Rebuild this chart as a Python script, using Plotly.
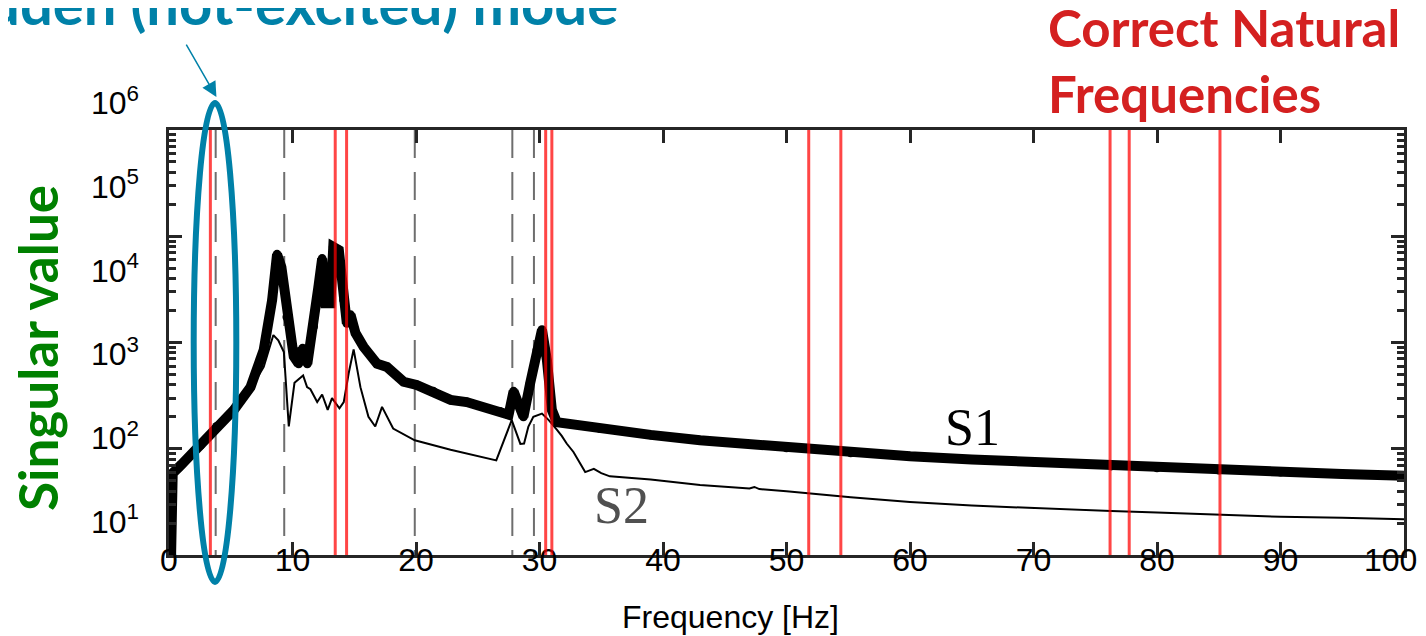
import plotly.graph_objects as go

# ---------------- data ----------------
s1_freq = [0.0, 0.3, 1.0, 2.0, 2.55, 3.86, 5.25, 6.6, 7.67, 8.35, 8.75, 9.1, 9.55, 10.1, 10.5,
           10.82, 11.2, 11.7, 12.1, 12.4, 12.67, 13.07, 13.3, 13.75, 14.15, 14.4, 14.7, 15.1,
           15.75, 16.85, 17.65, 19.0, 20.05, 21.4, 22.8, 24.1, 26.8, 27.5, 27.9, 28.3, 28.7,
           29.25, 29.8, 30.2, 30.6, 31.0, 31.4, 34.9, 39.0, 43.0, 50.0, 55.2, 60.0, 65.0, 70.0,
           76.3, 80.0, 85.0, 90.0, 95.0, 100.0]
s1_value = [1.0, 59, 70.8, 93.3, 108, 162, 232, 380, 851, 2512, 6761, 5129, 1738, 741, 631,
            881, 631, 1413, 3350, 6166, 2344, 2344, 7943, 7413, 2512, 1514, 1820, 1230,
            912, 631, 589, 427, 398, 347, 288, 275, 224, 209, 347, 269, 200,
            417, 851, 1318, 684, 232, 178, 155, 135, 120, 102, 91.8, 85.1, 79.4, 75.0,
            68.9, 66.1, 63.1, 60.3, 57.8, 55.7]

s2_freq = [0.0, 0.3, 1.0, 2.55, 3.3, 3.6, 3.86, 5.25, 6.6, 7.67, 8.45, 8.85, 9.3, 9.7, 10.16,
           10.86, 11.18, 11.45, 12.0, 12.4, 12.85, 13.2, 13.8, 14.15, 14.55, 14.95, 15.5, 16.15,
           16.7, 17.25, 18.15, 19.9, 22.8, 26.5, 27.75, 28.45, 28.75, 29.1, 29.5, 30.2, 30.75,
           31.4, 31.8, 32.2, 32.75, 33.7, 34.4, 35.0, 35.7, 39.0, 43.0, 47.0, 47.4, 47.8, 50.0,
           55.2, 60.0, 65.0, 70.0, 76.3, 80.0, 85.0, 90.0, 95.0, 100.0]
s2_value = [1.0, 52.5, 63.1, 102, 126, 132, 145, 214, 363, 589, 1175, 1047, 813, 162, 417,
            490, 380, 363, 275, 324, 232, 299, 240, 275, 513, 861, 380, 200,
            162, 248, 155, 120, 97.7, 77.6, 186, 111, 112, 162, 200, 214, 186,
            151, 132, 112, 93.3, 60.3, 64.6, 58.9, 55.0, 51.3, 45.7, 42.2, 43.7, 41.7, 39.8,
            34.9, 31.6, 29.2, 27.5, 25.9, 25.1, 24.0, 22.9, 22.4, 21.7]

correct_freqs = [3.35, 13.46, 14.38, 30.5, 31.0, 51.8, 54.4, 76.2, 77.75, 85.1]
estimated_freqs = [3.78, 9.33, 19.9, 27.8, 29.55]

x_ticks = [0, 10, 20, 30, 40, 50, 60, 70, 80, 90, 100]
x_tick_text = ["0", "10", "20", "30", "40", "50", "60", "70", "80", "90", "100\u00a0\u00a0\u00a0"]
y_label_vals = [10, 100, 1000, 10000, 100000, 1000000]
y_label_text = ["10<sup>1</sup>", "10<sup>2</sup>", "10<sup>3</sup>",
                "10<sup>4</sup>", "10<sup>5</sup>", "10<sup>6</sup>"]

BLUE = "#0081A8"
GREEN = "#008000"
RED_TXT = "#D42020"
AX = "#262626"
SANS = "Liberation Sans, Arial, sans-serif"
CAL = "Lato, Open Sans, sans-serif"
SERIF = "Liberation Serif, Times New Roman, serif"

fig = go.Figure()

fig.add_trace(go.Scatter(x=s2_freq, y=s2_value, mode="lines",
                         line=dict(color="black", width=2), showlegend=False, hoverinfo="skip"))
fig.add_trace(go.Scatter(x=s1_freq, y=s1_value, mode="lines+markers",
                         line=dict(color="black", width=10),
                         marker=dict(color="black", size=9, line=dict(width=0)),
                         showlegend=False, hoverinfo="skip"))
# carrier trace for the label axis
fig.add_trace(go.Scatter(x=[50], y=[100], yaxis="y2", mode="markers",
                         marker=dict(opacity=0), showlegend=False, hoverinfo="skip"))

shapes = []
for f in estimated_freqs:
    shapes.append(dict(type="line", xref="x", yref="y domain", x0=f, x1=f, y0=1, y1=0,
                       line=dict(color="#6E6E6E", width=2, dash="28px,14px"), layer="below"))
for f in correct_freqs:
    shapes.append(dict(type="line", xref="x", yref="y domain", x0=f, x1=f, y0=0, y1=1,
                       line=dict(color="#FF0000", width=3), opacity=0.72, layer="above"))
# highlight ellipse around the hidden mode
shapes.append(dict(type="circle", xref="x", yref="paper", x0=2.0, x1=5.45, y0=-0.0568, y1=0.9516,
                   line=dict(color=BLUE, width=6), layer="above"))

annotations = [
    dict(text="Hidden (not-excited) mode", xref="paper", yref="paper", x=0.3652, y=1.1633,
         xanchor="right", yanchor="middle", showarrow=False,
         font=dict(family=CAL, size=58, color=BLUE, weight="bold")),
    dict(text="", xref="x", yref="paper", x=3.84, y=0.9642, ax=-31, ay=-54,
         showarrow=True, arrowhead=2, arrowsize=2, arrowwidth=1.5, arrowcolor=BLUE, standoff=0),
    dict(text="Correct Natural<br>Frequencies", xref="paper", yref="paper", x=0.7102, y=1.0419,
         xanchor="left", yanchor="middle", align="left", showarrow=False,
         font=dict(family=CAL, size=51, color=RED_TXT, weight="bold")),
    dict(text="Singular value", xref="paper", yref="paper", x=-0.1065, y=0.4368,
         xanchor="center", yanchor="middle", textangle=-90, showarrow=False,
         font=dict(family=CAL, size=53, color=GREEN, weight="bold")),
    dict(text="Frequency [Hz]", xref="paper", yref="paper", x=0.4543, y=-0.1305,
         xanchor="center", yanchor="middle", showarrow=False,
         font=dict(family=SANS, size=32, color="black")),
    dict(text="S1", xref="x", yref="y", x=65.1, y=2.2, xanchor="center", yanchor="middle",
         showarrow=False, font=dict(family=SERIF, size=52, color="black")),
    dict(text="S2", xref="x", yref="y", x=36.6, y=1.466, xanchor="center", yanchor="middle",
         showarrow=False, font=dict(family=SERIF, size=52, color="#505050")),
]

# the page body adds an 8 px offset, so the figure is 8 px smaller in each direction
fig.update_layout(
    width=1418, height=628,
    margin=dict(l=161, r=22, t=72, b=81, pad=0, autoexpand=False),
    paper_bgcolor="white", plot_bgcolor="rgba(0,0,0,0)",
    showlegend=False,
    shapes=shapes, annotations=annotations,
    xaxis=dict(range=[0, 100], tickvals=x_ticks, ticktext=x_tick_text,
               ticks="inside", ticklen=13, tickwidth=2.5, tickcolor=AX,
               showline=True, linewidth=3, linecolor=AX, mirror="ticks",
               showgrid=False, zeroline=False, anchor="y", automargin=False,
               ticklabeloverflow="allow",
               tickfont=dict(family=SANS, size=32, color="black"),
               ticklabelstandoff=-25),
    yaxis=dict(type="log", range=[1, 5], domain=[0, 425 / 475], dtick=1,
               ticks="inside", ticklen=13, tickwidth=3, tickcolor=AX,
               minor=dict(ticks="inside", ticklen=7, tickwidth=3, tickcolor=AX, dtick="D1",
                          showgrid=False),
               showline=True, linewidth=3, linecolor=AX, mirror="ticks", automargin=False,
               showgrid=False, zeroline=False, showticklabels=False, anchor="x"),
    yaxis2=dict(type="log", range=[0.602, 6.274], domain=[0, 1], anchor="x", side="left",
                tickvals=y_label_vals, ticktext=y_label_text, ticks="", automargin=False,
                showline=False, showgrid=False, zeroline=False,
                ticklabeloverflow="allow",
                tickfont=dict(family=SANS, size=32, color="black"),
                ticklabelstandoff=29),
)

fig.write_html("out.html")
